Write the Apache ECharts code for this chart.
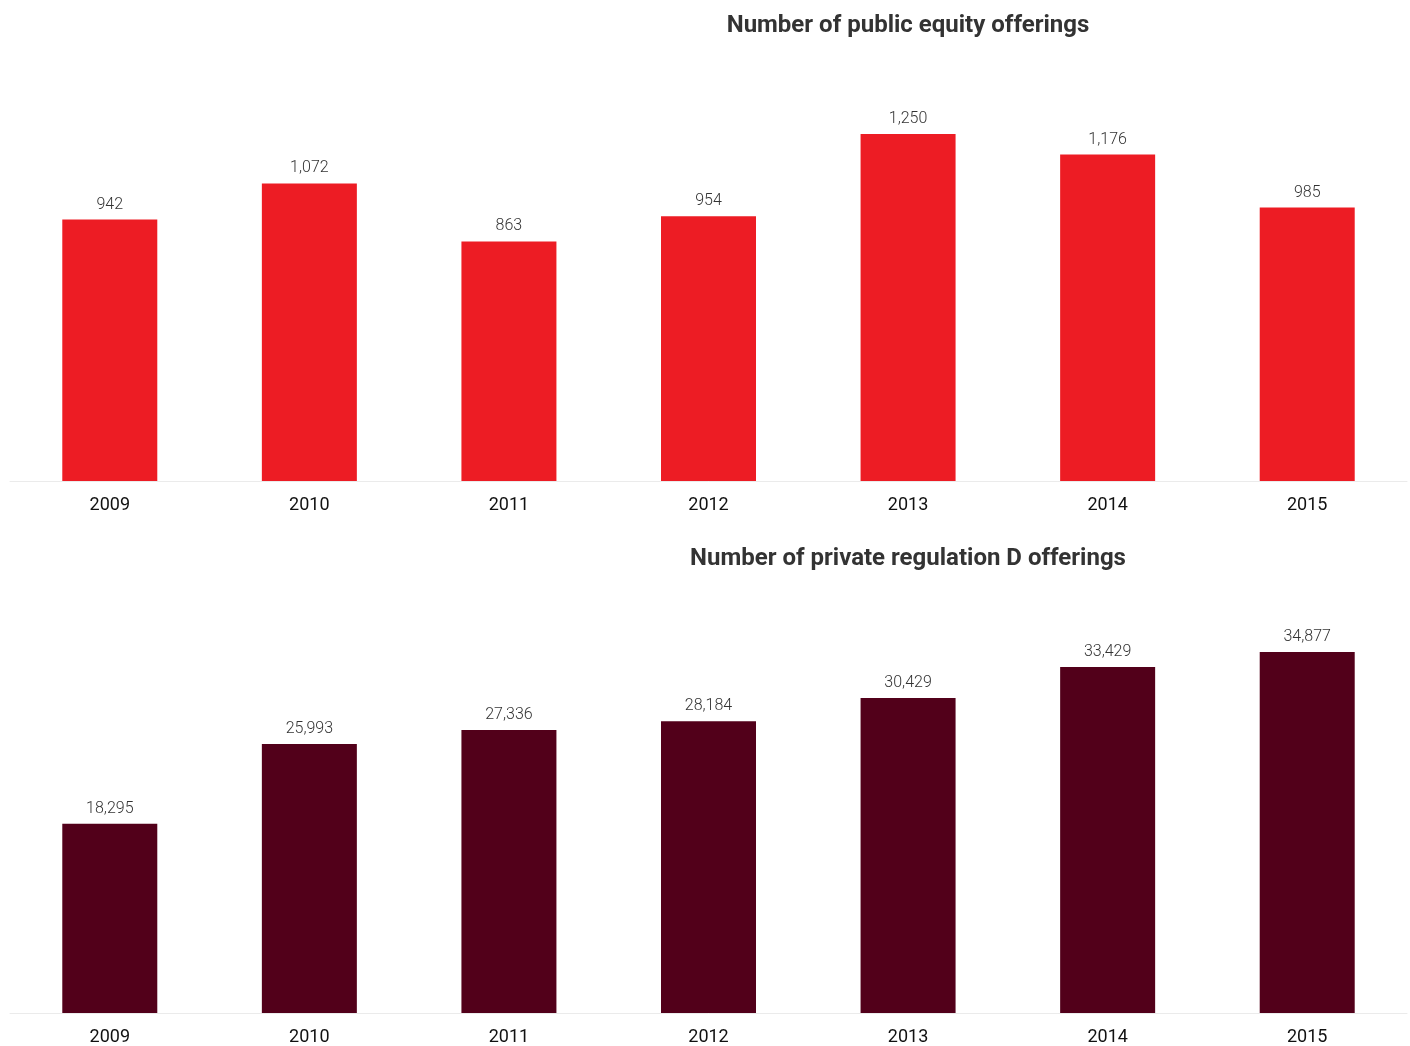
<!DOCTYPE html>
<html>
<head>
<meta charset="utf-8">
<script src="https://cdn.jsdelivr.net/npm/echarts@6/dist/echarts.min.js"></script>
<style>
  html, body { margin: 0; padding: 0; background: #fff; }
  #chart { width: 1410px; height: 1046px; }
</style>
</head>
<body>
<div id="chart"></div>
<script>
const years = ["2009", "2010", "2011", "2012", "2013", "2014", "2015"];
const publicOfferings = [942, 1072, 863, 954, 1250, 1176, 985];
const privateOfferings = [18295, 25993, 27336, 28184, 30429, 33429, 34877];
const titles = ["Number of public equity offerings", "Number of private regulation D offerings"];

const chart = echarts.init(document.getElementById("chart"));

const fmt = (p) => p.value.toLocaleString("en-US");

const xAxisBase = {
  type: "category",
  data: years,
  axisTick: { show: false },
  axisLine: { lineStyle: { color: "#ebebeb", width: 1 } },
  axisLabel: { color: "#111", fontSize: 18, fontFamily: "Roboto", margin: 15 },
};

const yAxisBase = {
  type: "value",
  min: 0,
  show: false,
  splitLine: { show: false },
};

const barBase = {
  type: "bar",
  barWidth: 95,
  label: {
    show: true,
    position: "top",
    distance: 7,
    color: "#333",
    fontSize: 16,
    fontFamily: "Roboto",
    fontWeight: 300,
    formatter: fmt,
  },
};

const titleText = (text, y) => ({
  type: "text",
  x: 908,
  y: y,
  style: {
    text: text,
    fill: "#333",
    font: "bold 24px Roboto",
    textAlign: "center",
    textVerticalAlign: "middle",
  },
});

const option = {
  backgroundColor: "#fff",
  animation: false,
  graphic: [titleText(titles[0], 26), titleText(titles[1], 559)],
  grid: [
    { left: 10, right: 3, top: 134, bottom: 565 },
    { left: 10, right: 3, top: 652, bottom: 32 },
  ],
  xAxis: [
    { ...xAxisBase, gridIndex: 0 },
    { ...xAxisBase, gridIndex: 1 },
  ],
  yAxis: [
    { ...yAxisBase, gridIndex: 0, max: 1250 },
    { ...yAxisBase, gridIndex: 1, max: 34877 },
  ],
  series: [
    {
      ...barBase,
      name: "Public equity offerings",
      xAxisIndex: 0,
      yAxisIndex: 0,
      data: publicOfferings,
      itemStyle: { color: "#ED1C24" },
    },
    {
      ...barBase,
      name: "Private regulation D offerings",
      xAxisIndex: 1,
      yAxisIndex: 1,
      data: privateOfferings,
      itemStyle: { color: "#52001A" },
    },
  ],
};

chart.setOption(option);
</script>
</body>
</html>
